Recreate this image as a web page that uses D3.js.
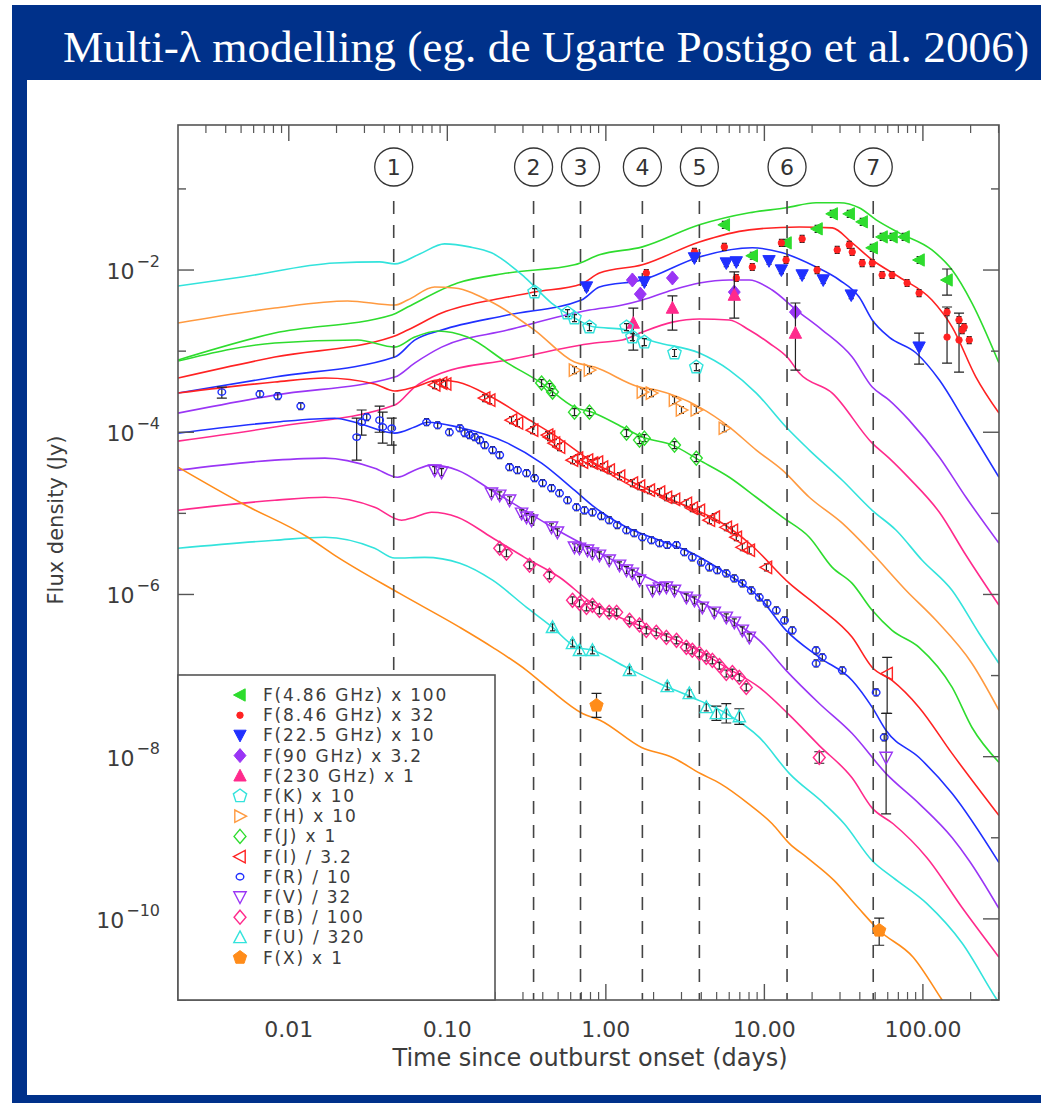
<!DOCTYPE html>
<html>
<head>
<meta charset="utf-8">
<script src="https://cdn.jsdelivr.net/npm/d3@7"></script>
<style>
  html, body { margin: 0; padding: 0; background: #fff; }
  svg { display: block; }
  text { font-family: "DejaVu Sans", sans-serif; }
</style>
</head>
<body>
<div id="chart"></div>
<script>
// ---- axis ticks / annotations ----
const xTickValues = [0.01, 0.1, 1, 10, 100];
const xTickLabels = ["0.01", "0.10", "1.00", "10.00", "100.00"];
const yTickValues = [1e-2, 1e-4, 1e-6, 1e-8, 1e-10];
const yTickExps = ["\u22122", "\u22124", "\u22126", "\u22128", "\u221210"];
const vlineTimes = [0.0459, 0.350, 0.692, 1.70, 3.89, 13.9, 48.6];
const vlineLabels = ["1", "2", "3", "4", "5", "6", "7"];

const legendLabels = [
  "F(4.86 GHz) x 100", "F(8.46 GHz) x 32", "F(22.5 GHz) x 10", "F(90 GHz) x 3.2",
  "F(230 GHz) x 1", "F(K) x 10", "F(H) x 10", "F(J) x 1", "F(I) / 3.2",
  "F(R) / 10", "F(V) / 32", "F(B) / 100", "F(U) / 320", "F(X) x 1"
];

// ---- model curves [days, Jy] ----
const model486 = [[0.00200,0.000777],[0.00816,0.00167],[0.0446,0.00279],[0.0562,0.0035],[0.116,0.00692],[0.240,0.00918],[0.634,0.0116],[0.911,0.0154],[1.70,0.0193],[3.89,0.0361],[8.03,0.0508],[13.7,0.0585],[21.2,0.0675],[29.7,0.0675],[39.6,0.0585],[50.7,0.0416],[70.8,0.0287],[114,0.0177],[153,0.0100],[204,0.00392],[302,0.000713]];
const model846 = [[0.00200,0.000466],[0.00816,0.000846],[0.0446,0.00149],[0.0562,0.00182],[0.0920,0.00295],[0.240,0.00464],[0.355,0.00535],[0.702,0.00673],[0.911,0.00918],[1.70,0.0116],[3.89,0.0222],[8.03,0.0313],[16.6,0.0340],[26.8,0.0331],[35.8,0.0216],[47.9,0.0133],[70.8,0.0082],[114,0.00427],[153,0.00198],[216,0.000479],[302,0.000172]];
const model225 = [[0.00200,0.000304],[0.00816,0.000479],[0.0466,0.000846],[0.0622,0.00137],[0.0920,0.00182],[0.240,0.00279],[0.702,0.00427],[0.911,0.00617],[1.70,0.00754],[3.89,0.0145],[8.39,0.0188],[13.0,0.0163],[21.2,0.0109],[29.7,0.00754],[39.6,0.00464],[47.9,0.00242],[61.2,0.00149],[90.6,0.000948],[127,0.00044],[187,0.00013],[302,2.79e-5]];
const model90 = [[0.00200,0.000172],[0.00816,0.000287],[0.0466,0.000479],[0.0622,0.000713],[0.0920,0.00112],[0.240,0.00182],[0.788,0.00321],[1.27,0.0037],[1.70,0.00427],[2.63,0.00567],[3.89,0.00692],[6.01,0.00754],[8.03,0.00754],[11.2,0.00567],[15.9,0.00321],[23.2,0.00182],[35.8,0.000846],[47.9,0.000361],[61.2,0.000249],[81.8,0.000141],[127,4.93e-5],[187,1.58e-5],[302,4.28e-6]];
const model230 = [[0.00200,7.77e-5],[0.00816,0.000116],[0.0466,0.000216],[0.0622,0.000361],[0.0920,0.000537],[0.240,0.000777],[0.848,0.00126],[1.27,0.00137],[1.70,0.00172],[2.63,0.00228],[3.89,0.00249],[6.01,0.00242],[8.03,0.00182],[10.7,0.00126],[14.1,0.000822],[16.6,0.000537],[26.8,0.000304],[47.9,7.34e-5],[61.2,4.80e-5],[81.8,2.72e-5],[127,1.03e-5],[187,3.04e-6],[302,7.35e-7]];
const modelK = [[0.00200,0.00635],[0.00505,0.0082],[0.0195,0.0122],[0.0374,0.0126],[0.0466,0.0119],[0.0669,0.0158],[0.0961,0.0210],[0.138,0.0193],[0.190,0.0163],[0.307,0.0082],[0.454,0.00392],[0.634,0.00256],[0.848,0.00198],[1.27,0.00187],[1.63,0.00149],[2.08,0.00129],[3.89,0.000948],[6.01,0.000584],[8.89,0.000304],[13.7,0.000116],[19.2,6.03e-5],[31.0,2.56e-5],[47.9,1.09e-5],[67.8,6.19e-6],[98.9,2.64e-6],[153,1.12e-6],[226,3.32e-7],[302,1.41e-7]];
const modelH = [[0.00200,0.00222],[0.00816,0.0034],[0.0235,0.00415],[0.0466,0.0037],[0.0562,0.00427],[0.0832,0.00617],[0.111,0.0060],[0.190,0.00403],[0.355,0.00182],[0.634,0.000733],[0.848,0.000636],[1.63,0.000361],[2.08,0.000331],[3.89,0.000204],[6.01,0.000116],[8.89,6.03e-5],[13.0,3.41e-5],[19.2,1.58e-5],[31.0,7.56e-6],[47.9,3.22e-6],[78.4,1.12e-6],[121,4.80e-7],[204,1.41e-7],[302,3.72e-8]];
const modelJ = [[0.00200,0.000755],[0.00816,0.00126],[0.0272,0.00137],[0.0466,0.00112],[0.0622,0.00149],[0.0869,0.00177],[0.134,0.00149],[0.240,0.000713],[0.393,0.000404],[0.634,0.000204],[0.848,0.000172],[1.27,0.000116],[1.70,8.71e-5],[2.63,6.94e-5],[3.89,4.53e-5],[6.01,2.79e-5],[8.89,1.58e-5],[13.0,8.97e-6],[19.2,5.08e-6],[26.8,2.16e-6],[35.8,1.37e-6],[47.9,6.37e-7],[63.9,3.61e-7],[94.6,2.23e-7],[153,7.14e-8],[204,2.29e-8],[302,8.48e-9]];
const modelI = [[0.00200,0.000304],[0.00816,0.000416],[0.0169,0.000466],[0.0348,0.000393],[0.0466,0.000322],[0.0622,0.000361],[0.0869,0.00044],[0.116,0.000416],[0.190,0.000272],[0.307,0.000154],[0.495,8.71e-5],[0.848,4.16e-5],[1.27,2.79e-5],[2.08,1.77e-5],[3.36,1.19e-5],[5.43,7.56e-6],[8.03,4.28e-6],[14.4,1.37e-6],[22.2,6.94e-7],[35.8,2.96e-7],[47.9,1.26e-7],[63.9,8.71e-8],[94.6,4.05e-8],[153,1.09e-8],[302,1.88e-9]];
const modelR = [[0.00200,9.76e-5],[0.00816,0.000133],[0.0195,0.000149],[0.0272,0.00013],[0.0466,9.76e-5],[0.0622,0.000116],[0.0751,0.000133],[0.116,0.000116],[0.240,7.34e-5],[0.393,4.16e-5],[0.634,1.93e-5],[0.848,1.19e-5],[1.35,6.74e-6],[2.18,4.66e-6],[3.51,3.22e-6],[5.75,1.82e-6],[9.29,9.22e-7],[13.7,3.61e-7],[22.2,1.68e-7],[35.8,8.71e-8],[47.9,4.05e-8],[58.6,2.10e-8],[94.6,9.77e-9],[153,3.51e-9],[302,4.93e-10]];
const modelV = [[0.00200,3.41e-5],[0.00816,4.53e-5],[0.0169,4.80e-5],[0.0348,3.61e-5],[0.0486,2.79e-5],[0.0622,3.41e-5],[0.0796,3.93e-5],[0.116,3.41e-5],[0.190,1.93e-5],[0.307,1.09e-5],[0.495,6.19e-6],[0.848,3.51e-6],[1.35,2.16e-6],[2.18,1.37e-6],[3.51,9.22e-7],[5.75,5.22e-7],[9.29,2.72e-7],[13.7,1.16e-7],[22.2,4.53e-8],[35.8,1.93e-8],[58.6,6.19e-9],[94.6,2.64e-9],[153,1.00e-9],[196,5.22e-10],[302,1.34e-10]];
const modelB = [[0.00200,1.09e-5],[0.00816,1.45e-5],[0.0169,1.58e-5],[0.0348,1.19e-5],[0.0515,8.23e-6],[0.0622,8.97e-6],[0.0796,1.03e-5],[0.116,8.97e-6],[0.190,5.08e-6],[0.307,2.87e-6],[0.510,1.63e-6],[0.823,7.78e-7],[1.35,4.80e-7],[2.18,3.32e-7],[3.51,2.23e-7],[5.75,1.26e-7],[9.29,7.14e-8],[14.4,3.25e-8],[22.2,1.37e-8],[35.8,5.45e-9],[47.9,2.32e-9],[64.9,1.49e-9],[106,5.69e-10],[177,1.37e-10],[302,3.37e-11]];
const modelU = [[0.00200,3.71e-6],[0.00816,4.66e-6],[0.0169,5.08e-6],[0.0348,3.71e-6],[0.0466,2.81e-6],[0.0719,2.87e-6],[0.120,2.43e-6],[0.193,1.50e-6],[0.316,6.94e-7],[0.461,3.93e-7],[0.653,2.23e-7],[0.823,2.05e-7],[1.35,1.26e-7],[2.18,8.00e-8],[3.51,5.37e-8],[5.75,3.41e-8],[9.29,1.73e-8],[14.4,6.19e-9],[23.8,2.64e-9],[31.9,1.49e-9],[47.9,5.22e-10],[64.9,3.22e-10],[106,1.54e-10],[177,5.00e-11],[289,1.05e-11],[302,9.2e-12]];
const modelX = [[0.00200,3.71e-5],[0.00505,1.33e-5],[0.0132,5.08e-6],[0.0195,3.04e-6],[0.0500,1.03e-6],[0.120,3.93e-7],[0.193,2.23e-7],[0.316,1.16e-7],[0.435,6.95e-8],[0.712,3.41e-8],[0.925,2.80e-8],[1.68,1.30e-8],[2.63,9.77e-9],[3.95,6.19e-9],[5.27,4.66e-9],[7.92,2.64e-9],[11.2,1.49e-9],[14.4,8.48e-10],[18.6,5.69e-10],[27.6,2.96e-10],[39.1,1.37e-10],[53.0,7.20e-11],[86.8,3.37e-11],[130,1.05e-11],[146,7.4e-12]];

// ---- observations [days, Jy, (err low, err high)] ----
const obs486 = [[5.59,0.0361],[8.39,0.0150],[13.7,0.0216],[21.5,0.0322],[26.8,0.0493],[34.3,0.0493],[41.4,0.0393],[47.9,0.0188],[55.3,0.0256],[63.9,0.0256],[76.1,0.0256],[94.6,0.0133],[142,0.00754,0.00491,0.0103]];
const obs846 = [[1.80,0.00918],[3.62,0.0167],[5.59,0.0193],[6.65,0.00798],[8.39,0.0109],[12.8,0.0216],[13.7,0.0133],[17.3,0.0242],[21.5,0.0100],[28.8,0.0177],[34.3,0.0204],[35.8,0.0167],[41.4,0.0122],[47.9,0.0122],[55.3,0.00869],[63.9,0.00869],[79.5,0.00692],[94.6,0.0052],[142,0.00303],[142,0.00149,0.000713,0.0035],[169,0.00242],[177,0.00182],[169,0.00137,0.000552,0.00295],[196,0.00137],[182,0.00198]];
const obs225 = [[0.755,0.00617],[1.75,0.00712],[3.62,0.0141],[5.75,0.0122],[6.65,0.0126],[10.7,0.0130],[12.8,0.0100],[17.3,0.00869],[23.5,0.00754],[35.3,0.00491],[94.6,0.00112,0.000691,0.00167]];
const obs90 = [[1.47,0.00754],[1.65,0.00505],[2.63,0.00798],[6.46,0.00535],[15.7,0.00303]];
const obs230 = [[1.49,0.00222,0.00103,0.0034],[2.63,0.0034,0.00182,0.00479],[6.46,0.00491,0.00256,0.0095],[15.7,0.00167,0.000584,0.00392]];
const obsK = [[0.355,0.00535],[0.573,0.00295],[0.634,0.00256],[0.788,0.00198],[1.35,0.00198],[1.47,0.00149],[1.75,0.00129],[2.71,0.000948],[3.72,0.000636]];
const obsH = [[0.634,0.000584],[0.788,0.000584],[1.70,0.000313],[1.94,0.000304],[2.71,0.000249],[3.00,0.000188],[3.72,0.000188],[5.59,0.000112]];
const obsJ = [[0.393,0.000404],[0.441,0.000361],[0.461,0.000313],[0.634,0.000177],[0.788,0.000177],[1.35,9.76e-5],[1.63,8.00e-5],[1.75,8.46e-5],[2.71,6.94e-5],[3.72,4.80e-5]];
const obsI = [[0.0832,0.000382],[0.0920,0.000404],[0.0976,0.000393],[0.172,0.000264],[0.185,0.000249],[0.254,0.000141],[0.277,0.00013],[0.345,0.000106],[0.429,9.22e-5],[0.441,8.71e-5],[0.474,7.34e-5],[0.510,6.56e-5],[0.616,4.53e-5],[0.662,4.80e-5],[0.712,4.28e-5],[0.766,4.53e-5],[0.823,4.16e-5],[0.885,4.28e-5],[0.952,3.71e-5],[1.05,3.41e-5],[1.22,2.88e-5],[1.47,2.36e-5],[1.63,2.17e-5],[1.88,1.93e-5],[2.18,1.83e-5],[2.41,1.58e-5],[2.71,1.49e-5],[3.22,1.33e-5],[3.51,1.16e-5],[3.89,1.09e-5],[4.50,8.23e-6],[4.83,8.97e-6],[5.75,6.74e-6],[6.28,6.19e-6],[6.65,5.08e-6],[7.26,3.82e-6],[8.03,3.51e-6],[10.3,2.16e-6],[59.5,1.06e-7,3.41e-8,1.68e-7]];
const obsR = [[0.00378,0.000313,0.000264,0.000361],[0.00657,0.000296],[0.00852,0.000279],[0.0119,0.00021],[0.0268,8.71e-5,4.53e-5,0.000149],[0.0288,0.000133,9.22e-5,0.000188],[0.0310,0.000154],[0.0374,0.000141,0.0001,0.00021],[0.0391,0.000116,7.34e-5,0.000177],[0.0446,0.000112,6.94e-5,0.000149],[0.0740,0.000133],[0.0869,0.000122],[0.103,0.0001],[0.120,0.000112],[0.129,9.76e-5],[0.138,9.22e-5],[0.149,8.71e-5],[0.160,8.00e-5],[0.172,6.94e-5],[0.193,6.03e-5],[0.214,5.23e-5],[0.247,3.71e-5],[0.277,3.41e-5],[0.316,3.13e-5],[0.355,2.72e-5],[0.399,2.36e-5],[0.454,2.05e-5],[0.510,1.77e-5],[0.573,1.45e-5],[0.653,1.19e-5],[0.733,1.09e-5],[0.823,1.03e-5],[0.938,9.23e-6],[1.05,8.23e-6],[1.18,7.18e-6],[1.35,6.19e-6],[1.51,5.69e-6],[1.70,5.08e-6],[1.94,4.66e-6],[2.18,4.28e-6],[2.44,4.07e-6],[2.79,4.07e-6],[3.13,3.32e-6],[3.51,2.87e-6],[4.00,2.49e-6],[4.50,2.16e-6],[5.05,1.99e-6],[5.75,1.82e-6],[6.46,1.58e-6],[7.26,1.37e-6],[8.27,1.12e-6],[9.29,9.22e-7],[10.4,7.78e-7],[11.9,6.37e-7],[13.4,4.80e-7],[15.0,3.61e-7],[21.2,2.05e-7],[23.2,1.68e-7],[21.2,1.41e-7],[31.0,1.16e-7],[50.7,6.19e-8],[57.0,1.73e-8]];
const obsV = [[0.0832,3.41e-5],[0.0920,3.22e-5],[0.190,1.77e-5],[0.214,1.67e-5],[0.247,1.45e-5],[0.294,1.00e-5],[0.316,8.97e-6],[0.340,8.23e-6],[0.454,6.74e-6],[0.495,5.85e-6],[0.634,3.82e-6],[0.682,3.71e-6],[0.766,3.51e-6],[0.823,3.22e-6],[0.911,3.04e-6],[1.05,2.64e-6],[1.22,2.29e-6],[1.35,1.99e-6],[1.47,1.82e-6],[1.63,1.50e-6],[1.97,1.12e-6],[2.18,1.20e-6],[2.41,1.23e-6],[2.71,1.12e-6],[3.22,9.22e-7],[3.62,8.47e-7],[4.06,6.94e-7],[4.83,6.02e-7],[5.75,5.22e-7],[6.46,4.53e-7],[7.26,3.61e-7],[8.03,2.96e-7],[58.6,9.77e-9,1.97e-9,3.41e-8]];
const obsB = [[0.214,3.71e-6],[0.236,3.22e-6],[0.330,2.29e-6],[0.441,1.72e-6],[0.616,8.47e-7],[0.682,7.78e-7],[0.755,6.94e-7],[0.823,7.35e-7],[0.911,6.37e-7],[1.05,6.02e-7],[1.17,6.02e-7],[1.41,4.80e-7],[1.63,4.21e-7],[1.80,3.61e-7],[2.08,3.42e-7],[2.41,2.96e-7],[2.79,2.72e-7],[3.22,2.23e-7],[3.51,2.05e-7],[3.89,1.88e-7],[4.30,1.68e-7],[4.70,1.54e-7],[5.20,1.33e-7],[5.75,1.06e-7],[6.28,1.09e-7],[6.95,9.49e-8],[7.69,7.14e-8],[22.2,9.77e-9,8.3e-9,1.15e-8]];
const obsU = [[0.461,3.93e-7],[0.616,2.49e-7],[0.682,2.05e-7],[0.823,2.05e-7],[1.41,1.16e-7],[2.44,7.35e-8],[3.36,6.03e-8],[4.30,4.05e-8],[4.98,3.41e-8,2.8e-8,4.2e-8],[5.75,3.41e-8,2.6e-8,4.5e-8],[6.95,3.13e-8,2.5e-8,3.9e-8]];
const obsX = [[0.873,4.28e-8,3.05e-8,6.03e-8],[53.0,7.2e-11,4.73e-11,1.02e-10]];

// style table built from the arrays above
const series = [
  { model: model486, obs: obs486, color: "#2edc2e", sym: "triL", filled: true },
  { model: model846, obs: obs846, color: "#ff2222", sym: "dot", filled: true },
  { model: model225, obs: obs225, color: "#2030ff", sym: "triD", filled: true },
  { model: model90, obs: obs90, color: "#9a35f5", sym: "diamond", filled: true },
  { model: model230, obs: obs230, color: "#ff2a8c", sym: "triU", filled: true },
  { model: modelK, obs: obsK, color: "#33e3dc", sym: "pent", filled: false },
  { model: modelH, obs: obsH, color: "#ff9a40", sym: "triR", filled: false },
  { model: modelJ, obs: obsJ, color: "#2edc2e", sym: "diamond", filled: false },
  { model: modelI, obs: obsI, color: "#ff2222", sym: "triL", filled: false },
  { model: modelR, obs: obsR, color: "#2030ff", sym: "circle", filled: false },
  { model: modelV, obs: obsV, color: "#9a35f5", sym: "triD", filled: false },
  { model: modelB, obs: obsB, color: "#ff2a8c", sym: "diamond", filled: false },
  { model: modelU, obs: obsU, color: "#33e3dc", sym: "triU", filled: false },
  { model: modelX, obs: obsX, color: "#ff8c1a", sym: "pent", filled: true }
];

const W = 1041, H = 1103;
const P = { left: 178, top: 125, right: 999, bottom: 1000 };
const ink = "#3c3c3c";

const x = d3.scaleLog().domain([0.0020, 302]).range([P.left, P.right]);
const y = d3.scaleLog().domain([1e-11, 0.614]).range([P.bottom, P.top]);

const svg = d3.select("#chart").append("svg")
  .attr("width", W).attr("height", H);

// slide frame
svg.append("rect").attr("width", W).attr("height", H).attr("fill", "#fff");
svg.append("rect").attr("x", 12).attr("y", 5).attr("width", W - 12).attr("height", H - 5)
  .attr("fill", "#00318a");
svg.append("rect").attr("x", 27).attr("y", 80).attr("width", W - 27).attr("height", 1015)
  .attr("fill", "#fff");
svg.append("text")
  .attr("x", 63).attr("y", 62)
  .attr("fill", "#fff")
  .style("font-family", "'Liberation Serif', 'DejaVu Serif', serif")
  .attr("font-size", 45)
  .attr("textLength", 966)
  .attr("lengthAdjust", "spacingAndGlyphs")
  .text("Multi-\u03bb modelling (eg. de Ugarte Postigo et al. 2006)");

svg.append("defs").append("clipPath").attr("id", "plotclip")
  .append("rect").attr("x", P.left).attr("y", P.top)
  .attr("width", P.right - P.left).attr("height", P.bottom - P.top);

// symbol shapes
function symPath(type, r) {
  const pts = (arr) => "M" + arr.map(p => p[0].toFixed(2) + "," + p[1].toFixed(2)).join("L") + "Z";
  switch (type) {
    case "triL": return pts([[-r, 0], [r * 0.8, -r * 0.95], [r * 0.8, r * 0.95]]);
    case "triR": return pts([[r, 0], [-r * 0.8, -r * 0.95], [-r * 0.8, r * 0.95]]);
    case "triU": return pts([[0, -r], [r * 0.95, r * 0.8], [-r * 0.95, r * 0.8]]);
    case "triD": return pts([[0, r], [r * 0.95, -r * 0.8], [-r * 0.95, -r * 0.8]]);
    case "diamond": return pts([[0, -r], [r * 0.85, 0], [0, r], [-r * 0.85, 0]]);
    case "pent": {
      const a = d3.range(5).map(i => -Math.PI / 2 + i * 2 * Math.PI / 5);
      return pts(a.map(t => [r * Math.cos(t), r * Math.sin(t)]));
    }
    case "dot": return `M${r},0A${r},${r} 0 1 1 ${-r},0A${r},${r} 0 1 1 ${r},0Z`;
    case "circle": return `M${r},0A${r},${r * 0.85} 0 1 1 ${-r},0A${r},${r * 0.85} 0 1 1 ${r},0Z`;
  }
}
const symSize = { triL: 6.5, triR: 6.5, triU: 6.5, triD: 6.5, diamond: 7, pent: 7, dot: 3.2, circle: 3.8 };

// model curves
const line = d3.line().x(d => x(d[0])).y(d => y(d[1])).curve(d3.curveMonotoneX);
const curves = svg.append("g").attr("clip-path", "url(#plotclip)");
series.forEach(s => {
  curves.append("path")
    .attr("d", line(s.model))
    .attr("fill", "none")
    .attr("stroke", s.color)
    .attr("stroke-width", 1.6);
});

// vertical dashed lines with circled numbers
const vg = svg.append("g");
vlineTimes.forEach((t, i) => {
  vg.append("line")
    .attr("x1", x(t)).attr("x2", x(t))
    .attr("y1", P.top + 76).attr("y2", P.bottom)
    .attr("stroke", "#444").attr("stroke-width", 1.6)
    .attr("stroke-dasharray", "13,11");
  vg.append("circle")
    .attr("cx", x(t)).attr("cy", P.top + 42).attr("r", 19)
    .attr("fill", "#fff").attr("stroke", "#333").attr("stroke-width", 1.3);
  vg.append("text")
    .attr("x", x(t)).attr("y", P.top + 50)
    .attr("text-anchor", "middle").attr("font-size", 22)
    .attr("fill", "#333").text(vlineLabels[i]);
});

// observations: error bars then symbols
const pg = svg.append("g").attr("clip-path", "url(#plotclip)");
series.forEach(s => {
  const r = symSize[s.sym];
  s.obs.forEach(d => {
    const cx = x(d[0]), cy = y(d[1]);
    let y0, y1, cap;
    if (d.length > 2) { y0 = y(d[2]); y1 = y(d[3]); cap = 5; }
    else { y0 = cy + 3.5; y1 = cy - 3.5; cap = 2.5; }
    pg.append("path")
      .attr("d", `M${cx},${y0}V${y1}M${cx - cap},${y0}H${cx + cap}M${cx - cap},${y1}H${cx + cap}`)
      .attr("stroke", "#222").attr("stroke-width", 1.2).attr("fill", "none");
  });
  pg.selectAll(null)
    .data(s.obs)
    .join("path")
    .attr("transform", d => `translate(${x(d[0])},${y(d[1])})`)
    .attr("d", symPath(s.sym, r))
    .attr("fill", s.filled ? s.color : "none")
    .attr("stroke", s.color)
    .attr("stroke-width", s.filled ? 1 : 1.4);
});

// axes frame and ticks
const ag = svg.append("g").attr("stroke", "#555").attr("fill", "none");
ag.append("rect").attr("x", P.left).attr("y", P.top)
  .attr("width", P.right - P.left).attr("height", P.bottom - P.top)
  .attr("stroke-width", 1.6);

const xMinor = [];
[0.001, 0.01, 0.1, 1, 10, 100].forEach(dec => {
  for (let k = 2; k <= 9; k++) {
    const v = dec * k;
    if (v > x.domain()[0] && v < x.domain()[1]) xMinor.push(v);
  }
});
xMinor.forEach(v => {
  ag.append("line").attr("x1", x(v)).attr("x2", x(v)).attr("y1", P.bottom).attr("y2", P.bottom - 8).attr("stroke-width", 1.2);
  ag.append("line").attr("x1", x(v)).attr("x2", x(v)).attr("y1", P.top).attr("y2", P.top + 8).attr("stroke-width", 1.2);
});
xTickValues.forEach(v => {
  ag.append("line").attr("x1", x(v)).attr("x2", x(v)).attr("y1", P.bottom).attr("y2", P.bottom - 16).attr("stroke-width", 1.4);
  ag.append("line").attr("x1", x(v)).attr("x2", x(v)).attr("y1", P.top).attr("y2", P.top + 16).attr("stroke-width", 1.4);
});

const yDecades = d3.range(-11, 0).map(e => Math.pow(10, e));
yDecades.forEach(v => {
  const labeled = yTickValues.some(t => Math.abs(Math.log10(t) - Math.log10(v)) < 1e-6);
  const len = labeled ? 16 : 8;
  ag.append("line").attr("x1", P.left).attr("x2", P.left + len).attr("y1", y(v)).attr("y2", y(v)).attr("stroke-width", 1.4);
  ag.append("line").attr("x1", P.right).attr("x2", P.right - len).attr("y1", y(v)).attr("y2", y(v)).attr("stroke-width", 1.4);
});

// tick labels
const lg = svg.append("g").attr("fill", ink);
xTickValues.forEach((v, i) => {
  lg.append("text")
    .attr("x", x(v)).attr("y", 1037)
    .attr("text-anchor", "middle").attr("font-size", 22)
    .text(xTickLabels[i]);
});
yTickValues.forEach((v, i) => {
  const t = lg.append("text")
    .attr("x", 160).attr("y", y(v) + 9)
    .attr("text-anchor", "end").attr("font-size", 22);
  t.append("tspan").text("10");
  t.append("tspan").attr("dy", -12).attr("font-size", 16).attr("dx", 2).text(yTickExps[i]);
});

lg.append("text")
  .attr("x", 590).attr("y", 1066)
  .attr("text-anchor", "middle").attr("font-size", 24)
  .text("Time since outburst onset (days)");
lg.append("text")
  .attr("transform", "translate(63,520) rotate(-90)")
  .attr("text-anchor", "middle").attr("font-size", 21)
  .text("Flux density (Jy)");

// legend
const leg = svg.append("g");
leg.append("rect")
  .attr("x", P.left).attr("y", 675)
  .attr("width", 495 - P.left).attr("height", P.bottom - 675)
  .attr("fill", "#fff").attr("stroke", "#555").attr("stroke-width", 1.6);
series.forEach((s, i) => {
  const cy = 695 + i * 20.2;
  leg.append("path")
    .attr("transform", `translate(240,${cy})`)
    .attr("d", symPath(s.sym, symSize[s.sym]))
    .attr("fill", s.filled ? s.color : "none")
    .attr("stroke", s.color)
    .attr("stroke-width", s.filled ? 1 : 1.4);
  leg.append("text")
    .attr("x", 263).attr("y", cy + 6)
    .attr("font-size", 17).attr("letter-spacing", 1.8).attr("fill", ink)
    .text(legendLabels[i]);
});
</script>
</body>
</html>
